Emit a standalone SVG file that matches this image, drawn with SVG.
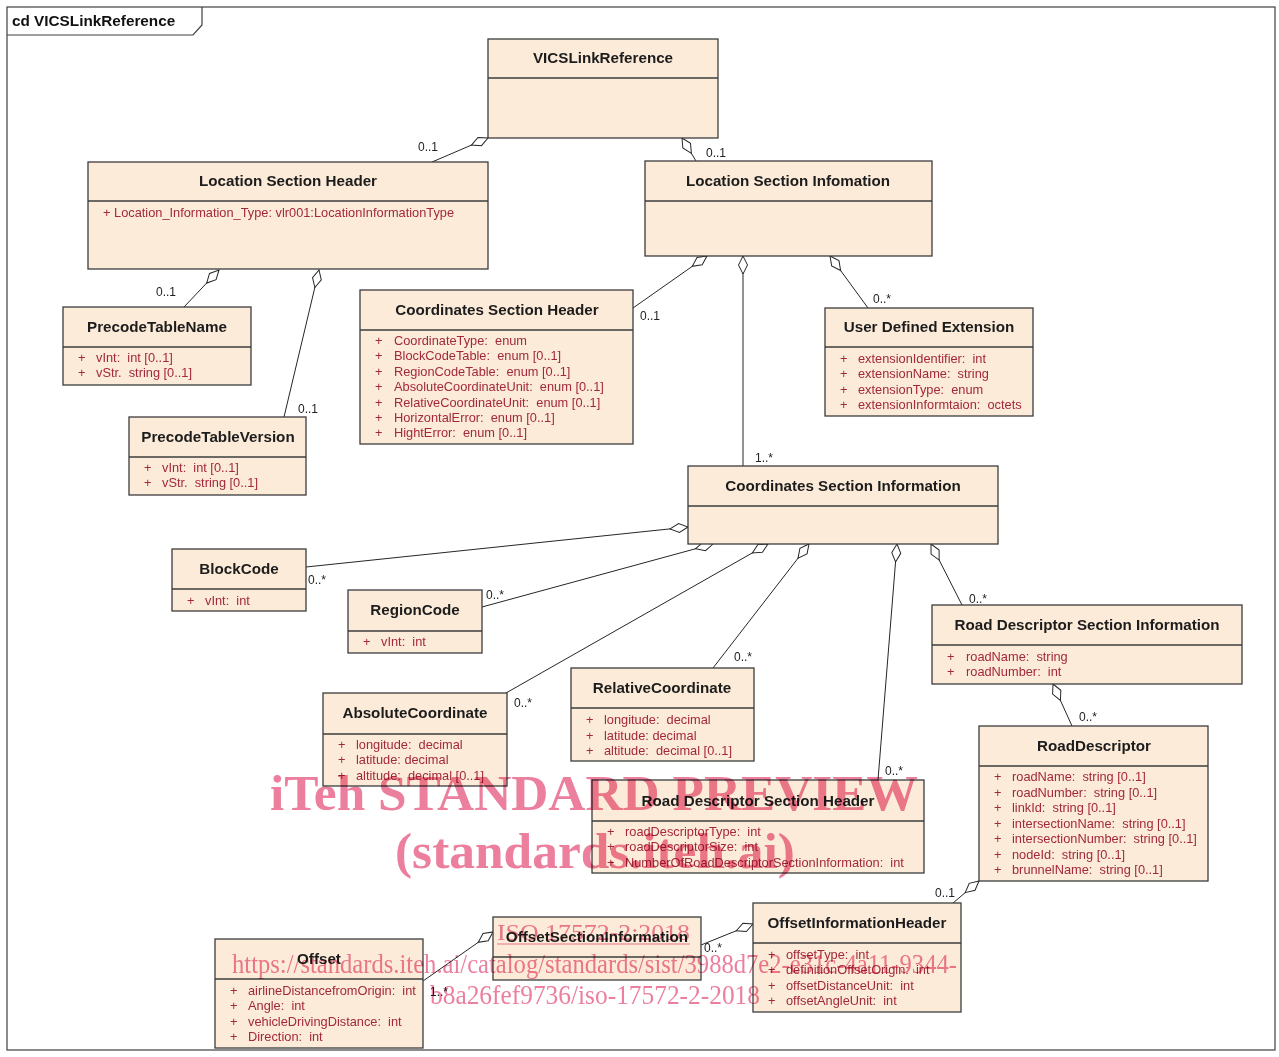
<svg xmlns="http://www.w3.org/2000/svg" width="1279" height="1057" viewBox="0 0 1279 1057" xml:space="preserve">
  <defs>
    <style>
      .frame { fill: #ffffff; stroke: #404040; stroke-width: 1.2; }
      .tab { fill: none; stroke: #404040; stroke-width: 1.2; }
      .tabtext { font-family: "Liberation Sans", Arial, sans-serif; font-size: 15.3px; font-weight: bold; fill: #111; }
      .box { fill: #FCEBD9; stroke: #3c3c3c; stroke-width: 1.3; }
      .sep { stroke: #3c3c3c; stroke-width: 1.3; }
      .title { font-family: "Liberation Sans", Arial, sans-serif; font-size: 15.2px; font-weight: bold; fill: #1c1c1c; text-anchor: middle; }
      .attr { font-family: "Liberation Sans", Arial, sans-serif; font-size: 12.8px; fill: #A3293A; white-space: pre; }
      .mult { font-family: "Liberation Sans", Arial, sans-serif; font-size: 12px; fill: #222; }
      .conn { fill: none; stroke: #262626; stroke-width: 1; marker-start: url(#agg); }
      .wm { font-family: "Liberation Serif", "Times New Roman", serif; fill: #EC7F9E; mix-blend-mode: multiply; }
      .wmb { font-weight: bold; font-size: 50px; text-anchor: middle; }
    </style>
    <!-- hollow aggregation diamond placed at the owning end -->
    <marker id="agg" markerUnits="userSpaceOnUse" markerWidth="22" markerHeight="14" viewBox="-1 -7 22 14" refX="0" refY="0" orient="auto">
      <path d="M0,0 L9,-4.5 L18,0 L9,4.5 Z" fill="#ffffff" stroke="#262626" stroke-width="1"/>
    </marker>
  </defs>

  <!-- diagram frame -->
  <rect class="frame" x="7" y="7" width="1268" height="1043"/>
  <path class="tab" d="M7,35 L193,35 L202,25 L202,7"/>
  <text class="tabtext" x="12" y="26">cd VICSLinkReference</text>

  <!-- associations -->
  <g id="connectors">
    <path class="conn" d="M488,138 L432,162"/>
    <text class="mult" x="418" y="151">0..1</text>
    <path class="conn" d="M682,138 L696,161"/>
    <text class="mult" x="706" y="157">0..1</text>
    <path class="conn" d="M219,270 L184,307"/>
    <text class="mult" x="156" y="296">0..1</text>
    <path class="conn" d="M319,270 L284,417"/>
    <text class="mult" x="298" y="413">0..1</text>
    <path class="conn" d="M707,256 L633,308"/>
    <text class="mult" x="640" y="320">0..1</text>
    <path class="conn" d="M743,256 L743,466"/>
    <text class="mult" x="755" y="462">1..*</text>
    <path class="conn" d="M830,256 L868,308"/>
    <text class="mult" x="873" y="303">0..*</text>
    <path class="conn" d="M688,527 L306,567"/>
    <text class="mult" x="308" y="584">0..*</text>
    <path class="conn" d="M713,544 L482,607"/>
    <text class="mult" x="486" y="599">0..*</text>
    <path class="conn" d="M768,544 L506,693"/>
    <text class="mult" x="514" y="707">0..*</text>
    <path class="conn" d="M809,544 L713,668"/>
    <text class="mult" x="734" y="661">0..*</text>
    <path class="conn" d="M897,544 L878,780"/>
    <text class="mult" x="885" y="775">0..*</text>
    <path class="conn" d="M931,544 L962,605"/>
    <text class="mult" x="969" y="603">0..*</text>
    <path class="conn" d="M1053,684 L1072,726"/>
    <text class="mult" x="1079" y="721">0..*</text>
    <path class="conn" d="M979,881 L953,903"/>
    <text class="mult" x="935" y="897">0..1</text>
    <path class="conn" d="M753,924 L701,945"/>
    <text class="mult" x="704" y="952">0..*</text>
    <path class="conn" d="M493,932 L423,981"/>
    <text class="mult" x="430" y="996">1..*</text>
  </g>

  <!-- classes -->
  <g id="VICSLinkReference">
    <rect class="box" x="488" y="39" width="230" height="99"/>
    <line class="sep" x1="488" y1="78" x2="718" y2="78"/>
    <text class="title" x="603" y="63">VICSLinkReference</text>
  </g>

  <g id="LocationSectionHeader">
    <rect class="box" x="88" y="162" width="400" height="107"/>
    <line class="sep" x1="88" y1="201" x2="488" y2="201"/>
    <text class="title" x="288" y="186">Location Section Header</text>
    <text class="attr" x="103" y="217">+ Location_Information_Type: vlr001:LocationInformationType</text>
  </g>

  <g id="PrecodeTableName">
    <rect class="box" x="63" y="307" width="188" height="78"/>
    <line class="sep" x1="63" y1="347" x2="251" y2="347"/>
    <text class="title" x="157" y="332">PrecodeTableName</text>
    <text class="attr" x="78" y="362">+</text><text class="attr" x="96" y="362">vInt:  int [0..1]</text>
    <text class="attr" x="78" y="377">+</text><text class="attr" x="96" y="377">vStr.  string [0..1]</text>
  </g>

  <g id="PrecodeTableVersion">
    <rect class="box" x="129" y="417" width="177" height="78"/>
    <line class="sep" x1="129" y1="457" x2="306" y2="457"/>
    <text class="title" x="218" y="442">PrecodeTableVersion</text>
    <text class="attr" x="144" y="472">+</text><text class="attr" x="162" y="472">vInt:  int [0..1]</text>
    <text class="attr" x="144" y="487">+</text><text class="attr" x="162" y="487">vStr.  string [0..1]</text>
  </g>

  <g id="CoordinatesSectionHeader">
    <rect class="box" x="360" y="290" width="273" height="154"/>
    <line class="sep" x1="360" y1="330" x2="633" y2="330"/>
    <text class="title" x="497" y="315">Coordinates Section Header</text>
    <text class="attr" x="375" y="345">+</text><text class="attr" x="394" y="345">CoordinateType:  enum</text>
    <text class="attr" x="375" y="360">+</text><text class="attr" x="394" y="360">BlockCodeTable:  enum [0..1]</text>
    <text class="attr" x="375" y="376">+</text><text class="attr" x="394" y="376">RegionCodeTable:  enum [0..1]</text>
    <text class="attr" x="375" y="391">+</text><text class="attr" x="394" y="391">AbsoluteCoordinateUnit:  enum [0..1]</text>
    <text class="attr" x="375" y="407">+</text><text class="attr" x="394" y="407">RelativeCoordinateUnit:  enum [0..1]</text>
    <text class="attr" x="375" y="422">+</text><text class="attr" x="394" y="422">HorizontalError:  enum [0..1]</text>
    <text class="attr" x="375" y="437">+</text><text class="attr" x="394" y="437">HightError:  enum [0..1]</text>
  </g>

  <g id="LocationSectionInfomation">
    <rect class="box" x="645" y="161" width="287" height="95"/>
    <line class="sep" x1="645" y1="201" x2="932" y2="201"/>
    <text class="title" x="788" y="186">Location Section Infomation</text>
  </g>

  <g id="UserDefinedExtension">
    <rect class="box" x="825" y="308" width="208" height="108"/>
    <line class="sep" x1="825" y1="347" x2="1033" y2="347"/>
    <text class="title" x="929" y="332">User Defined Extension</text>
    <text class="attr" x="840" y="363">+</text><text class="attr" x="858" y="363">extensionIdentifier:  int</text>
    <text class="attr" x="840" y="378">+</text><text class="attr" x="858" y="378">extensionName:  string</text>
    <text class="attr" x="840" y="394">+</text><text class="attr" x="858" y="394">extensionType:  enum</text>
    <text class="attr" x="840" y="409">+</text><text class="attr" x="858" y="409">extensionInformtaion:  octets</text>
  </g>

  <g id="CoordinatesSectionInformation">
    <rect class="box" x="688" y="466" width="310" height="78"/>
    <line class="sep" x1="688" y1="506" x2="998" y2="506"/>
    <text class="title" x="843" y="491">Coordinates Section Information</text>
  </g>

  <g id="BlockCode">
    <rect class="box" x="172" y="549" width="134" height="62"/>
    <line class="sep" x1="172" y1="589" x2="306" y2="589"/>
    <text class="title" x="239" y="574">BlockCode</text>
    <text class="attr" x="187" y="605">+</text><text class="attr" x="205" y="605">vInt:  int</text>
  </g>

  <g id="RegionCode">
    <rect class="box" x="348" y="590" width="134" height="63"/>
    <line class="sep" x1="348" y1="631" x2="482" y2="631"/>
    <text class="title" x="415" y="615">RegionCode</text>
    <text class="attr" x="363" y="646">+</text><text class="attr" x="381" y="646">vInt:  int</text>
  </g>

  <g id="AbsoluteCoordinate">
    <rect class="box" x="323" y="693" width="184" height="93"/>
    <line class="sep" x1="323" y1="734" x2="507" y2="734"/>
    <text class="title" x="415" y="718">AbsoluteCoordinate</text>
    <text class="attr" x="338" y="749">+</text><text class="attr" x="356" y="749">longitude:  decimal</text>
    <text class="attr" x="338" y="764">+</text><text class="attr" x="356" y="764">latitude: decimal</text>
    <text class="attr" x="338" y="780">+</text><text class="attr" x="356" y="780">altitude:  decimal [0..1]</text>
  </g>

  <g id="RelativeCoordinate">
    <rect class="box" x="571" y="668" width="183" height="93"/>
    <line class="sep" x1="571" y1="708" x2="754" y2="708"/>
    <text class="title" x="662" y="693">RelativeCoordinate</text>
    <text class="attr" x="586" y="724">+</text><text class="attr" x="604" y="724">longitude:  decimal</text>
    <text class="attr" x="586" y="740">+</text><text class="attr" x="604" y="740">latitude: decimal</text>
    <text class="attr" x="586" y="755">+</text><text class="attr" x="604" y="755">altitude:  decimal [0..1]</text>
  </g>

  <g id="RoadDescriptorSectionInformation">
    <rect class="box" x="932" y="605" width="310" height="79"/>
    <line class="sep" x1="932" y1="645" x2="1242" y2="645"/>
    <text class="title" x="1087" y="630">Road Descriptor Section Information</text>
    <text class="attr" x="947" y="661">+</text><text class="attr" x="966" y="661">roadName:  string</text>
    <text class="attr" x="947" y="676">+</text><text class="attr" x="966" y="676">roadNumber:  int</text>
  </g>

  <g id="RoadDescriptor">
    <rect class="box" x="979" y="726" width="229" height="155"/>
    <line class="sep" x1="979" y1="766" x2="1208" y2="766"/>
    <text class="title" x="1094" y="751">RoadDescriptor</text>
    <text class="attr" x="994" y="781">+</text><text class="attr" x="1012" y="781">roadName:  string [0..1]</text>
    <text class="attr" x="994" y="797">+</text><text class="attr" x="1012" y="797">roadNumber:  string [0..1]</text>
    <text class="attr" x="994" y="812">+</text><text class="attr" x="1012" y="812">linkId:  string [0..1]</text>
    <text class="attr" x="994" y="828">+</text><text class="attr" x="1012" y="828">intersectionName:  string [0..1]</text>
    <text class="attr" x="994" y="843">+</text><text class="attr" x="1012" y="843">intersectionNumber:  string [0..1]</text>
    <text class="attr" x="994" y="859">+</text><text class="attr" x="1012" y="859">nodeId:  string [0..1]</text>
    <text class="attr" x="994" y="874">+</text><text class="attr" x="1012" y="874">brunnelName:  string [0..1]</text>
  </g>

  <g id="RoadDescriptorSectionHeader">
    <rect class="box" x="592" y="780" width="332" height="93"/>
    <line class="sep" x1="592" y1="821" x2="924" y2="821"/>
    <text class="title" x="758" y="806">Road Descriptor Section Header</text>
    <text class="attr" x="607" y="836">+</text><text class="attr" x="625" y="836">roadDescriptorType:  int</text>
    <text class="attr" x="607" y="851">+</text><text class="attr" x="625" y="851">roadDescriptorSize:  int</text>
    <text class="attr" x="607" y="867">+</text><text class="attr" x="625" y="867">NumberOfRoadDescriptorSectionInformation:  int</text>
  </g>

  <g id="OffsetInformationHeader">
    <rect class="box" x="753" y="903" width="208" height="109"/>
    <line class="sep" x1="753" y1="943" x2="961" y2="943"/>
    <text class="title" x="857" y="928">OffsetInformationHeader</text>
    <text class="attr" x="768" y="959">+</text><text class="attr" x="786" y="959">offsetType:  int</text>
    <text class="attr" x="768" y="974">+</text><text class="attr" x="786" y="974">definitionOffsetOrigin:  int</text>
    <text class="attr" x="768" y="990">+</text><text class="attr" x="786" y="990">offsetDistanceUnit:  int</text>
    <text class="attr" x="768" y="1005">+</text><text class="attr" x="786" y="1005">offsetAngleUnit:  int</text>
  </g>

  <g id="OffsetSectionInformation">
    <rect class="box" x="493" y="917" width="208" height="63"/>
    <line class="sep" x1="493" y1="957" x2="701" y2="957"/>
    <text class="title" x="597" y="942">OffsetSectionInformation</text>
  </g>

  <g id="Offset">
    <rect class="box" x="215" y="939" width="208" height="109"/>
    <line class="sep" x1="215" y1="979" x2="423" y2="979"/>
    <text class="title" x="319" y="964">Offset</text>
    <text class="attr" x="230" y="995">+</text><text class="attr" x="248" y="995">airlineDistancefromOrigin:  int</text>
    <text class="attr" x="230" y="1010">+</text><text class="attr" x="248" y="1010">Angle:  int</text>
    <text class="attr" x="230" y="1026">+</text><text class="attr" x="248" y="1026">vehicleDrivingDistance:  int</text>
    <text class="attr" x="230" y="1041">+</text><text class="attr" x="248" y="1041">Direction:  int</text>
  </g>

  <!-- publisher overlay -->
  <g id="overlay" class="wm">
    <text class="wmb" x="594" y="810" textLength="648" lengthAdjust="spacingAndGlyphs">iTeh STANDARD PREVIEW</text>
    <text class="wmb" x="595" y="868" textLength="400" lengthAdjust="spacingAndGlyphs">(standards.iteh.ai)</text>
    <text x="497" y="940" font-size="24" textLength="193" lengthAdjust="spacingAndGlyphs">ISO 17572-2:2018</text>
    <line x1="497" y1="944" x2="690" y2="944" stroke="#EC7F9E" stroke-width="1.2"/>
    <text x="232" y="973" font-size="27" textLength="725" lengthAdjust="spacingAndGlyphs">https://standards.iteh.ai/catalog/standards/sist/3988d7e2-e31c-4a11-9344-</text>
    <text x="430" y="1004" font-size="27" textLength="330" lengthAdjust="spacingAndGlyphs">b8a26fef9736/iso-17572-2-2018</text>
  </g>
</svg>
